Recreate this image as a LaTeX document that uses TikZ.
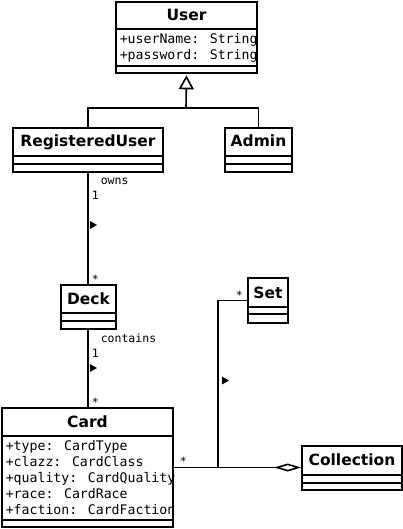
\documentclass[tikz,border=0pt]{standalone}
\usepackage{fontspec}
\newfontfamily\umlsans{DejaVu Sans}
\newfontfamily\umlmono{DejaVu Sans Mono}
\usetikzlibrary{arrows.meta}

\tikzset{
    classbox/.style={draw, line width=1.6pt, inner sep=0pt},
    classtitle/.style={anchor=base, inner sep=0pt, font=\umlsans\bfseries\fontsize{15.5}{18}\selectfont},
    attr/.style={anchor=base west, inner sep=0pt, font=\umlmono\fontsize{13.2}{16}\selectfont},
    assoclabel/.style={anchor=base west, inner sep=0pt, font=\umlmono\fontsize{11.5}{14}\selectfont},
}

% compartment lines of a class box
\newcommand\umlcompart[3]{%
    \draw (#1.west |- 0,#2) -- (#1.east |- 0,#2);
    \draw (#1.west |- 0,#3) -- (#1.east |- 0,#3);}
% small direction marker beside an association
\newcommand\dirmark[2]{\fill (#1,#2-4) -- (#1+7,#2) -- (#1,#2+4) -- cycle;}

\begin{document}
\begin{tikzpicture}[x=1pt, y=-1pt, line width=1.6pt]
    \useasboundingbox (0,0) rectangle (403,529);

    % Class boxes
    \node[classbox, minimum width=141pt, minimum height=71pt] (user) at (186.5,37.5) {};
    \node[classbox, minimum width=150pt, minimum height=44pt] (reg) at (88,150) {};
    \node[classbox, minimum width=67pt, minimum height=44pt] (admin) at (258.5,150) {};
    \node[classbox, minimum width=55pt, minimum height=44pt] (deck) at (88.5,307) {};
    \node[classbox, minimum width=40pt, minimum height=45pt] (set) at (268,300.5) {};
    \node[classbox, minimum width=171pt, minimum height=119pt] (card) at (87.5,467.5) {};
    \node[classbox, minimum width=100pt, minimum height=44pt] (coll) at (352,468) {};

    \umlcompart{user}{29}{66}
    \umlcompart{reg}{156}{164}
    \umlcompart{admin}{156}{164}
    \umlcompart{deck}{313}{321}
    \umlcompart{set}{307}{314}
    \umlcompart{card}{436}{520}
    \umlcompart{coll}{475}{483}

    % Titles
    \node[classtitle] (usertitle) at (186.5,21) {User};
    \node[classtitle] (regtitle) at (88,147) {RegisteredUser};
    \node[classtitle] (admintitle) at (258.5,147) {Admin};
    \node[classtitle] (decktitle) at (88.5,304) {Deck};
    \node[classtitle] (settitle) at (268,298) {Set};
    \node[classtitle] (cardtitle) at (87.5,427) {Card};
    \node[classtitle] (colltitle) at (352,465) {Collection};

    % Attributes
    \node[attr] (username) at (119,44) {+userName: String};
    \node[attr] (password) at (119,60) {+password: String};
    \node[attr] (cardtype) at (5,450) {+type: CardType};
    \node[attr] (cardclazz) at (5,466) {+clazz: CardClass};
    \node[attr] (cardquality) at (5,482) {+quality: CardQuality};
    \node[attr] (cardrace) at (5,498) {+race: CardRace};
    \node[attr] (cardfaction) at (5,514) {+faction: CardFaction};

    % Generalization
    \coordinate (gen) at (186,108);
    \draw (reg.north) |- (gen) -| (admin.north);
    \draw[-{Triangle[open, length=14pt, width=15pt]}, shorten >=1.5pt] (gen) -- (user.south);

    % Associations
    \draw (reg.south) -- (reg.south |- deck.north);
    \node[assoclabel] (ownslbl) at (100,185) {owns};
    \node[assoclabel] (ownsone) at (91,200) {1};
    \node[assoclabel] (ownsmany) at (91,283) {*};
    \dirmark{90}{225}

    \draw (reg.south |- deck.south) -- (reg.south |- card.north);
    \node[assoclabel] (containslbl) at (100,342) {contains};
    \node[assoclabel] (containsone) at (91,357) {1};
    \node[assoclabel] (containsmany) at (91,406) {*};
    \dirmark{90}{368}

    % Aggregation
    \draw[-{Diamond[open, length=27pt, width=8pt]}] (card.east) -- (card.east -| coll.west);
    \node[assoclabel] (collmany) at (179,465) {*};
    \coordinate (join) at (218,467.5);
    \draw (set.west) -| (join);
    \node[assoclabel] (setmany) at (235,299) {*};
    \dirmark{222}{380.5}
\end{tikzpicture}
\end{document}
